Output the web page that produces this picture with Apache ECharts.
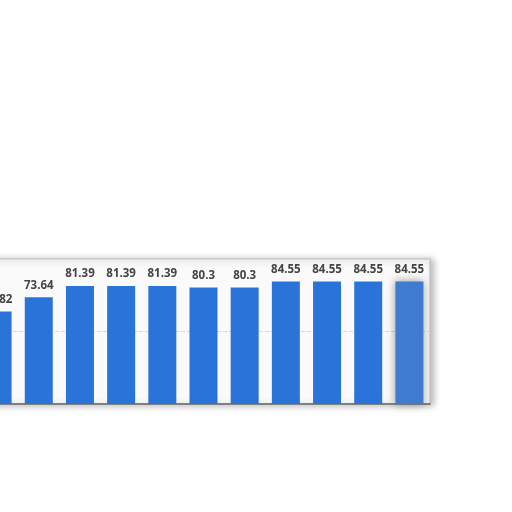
<!DOCTYPE html>
<html><head><meta charset="utf-8">
<script src="https://cdn.jsdelivr.net/npm/echarts@6/dist/echarts.min.js"></script>
<style>html,body{margin:0;padding:0;background:#fff;overflow:hidden}#c{width:535px;height:512px;margin-left:-23px}</style>
</head><body><div id="c"></div>
<script>
var categories = ['1','2','3','4','5','6','7','8','9','10','11'];
var values = [63.82, 73.64, 81.39, 81.39, 81.39, 80.3, 80.3, 84.55, 84.55, 84.55, 84.55];
var yTicks = [0, 50, 100];

var chart = echarts.init(document.getElementById('c'));
chart.setOption({
  animation: false,
  backgroundColor: '#ffffff',
  grid: {
    left: 0, right: 82, top: 259, bottom: 108,
    show: true, backgroundColor: '#fafafa', borderColor: '#c8c8c8', borderWidth: 1.5,
    shadowColor: 'rgba(0,0,0,0.28)', shadowBlur: 7, shadowOffsetX: 3, shadowOffsetY: 1
  },
  xAxis: {
    type: 'category', data: categories,
    axisLine: { show: true, lineStyle: { color: '#666', width: 1.5 } },
    axisTick: { show: false }, axisLabel: { show: false }
  },
  yAxis: {
    type: 'value', min: yTicks[0], max: yTicks[yTicks.length - 1], interval: 50,
    axisLine: { show: false }, axisTick: { show: false }, axisLabel: { show: false },
    splitLine: { lineStyle: { color: '#d8d8d8', type: 'dashed' } }
  },
  series: [{
    type: 'bar', barWidth: '68%',
    data: values.map(function (v, i) {
      return i === values.length - 1
        ? { value: v, itemStyle: { color: '#3f7bcf', shadowColor: 'rgba(90,90,90,0.6)', shadowBlur: 8 } }
        : v;
    }),
    itemStyle: { color: '#2a74d9' },
    label: {
      show: true, position: 'top', distance: 6,
      color: '#444', fontWeight: 'bold', fontSize: 11.5, fontFamily: 'Open Sans'
    }
  }]
});
</script></body></html>
